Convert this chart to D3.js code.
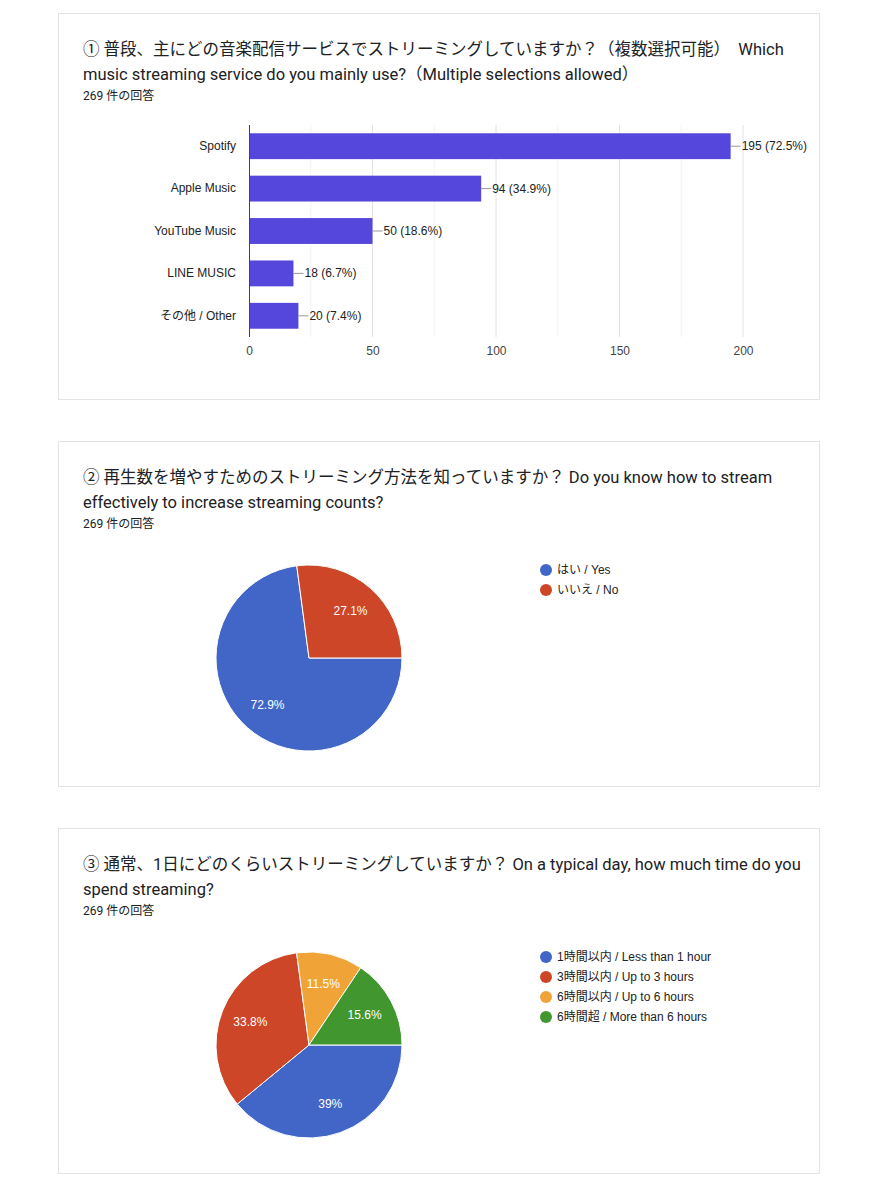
<!DOCTYPE html>
<html>
<head>
<meta charset="utf-8">
<script src="https://cdn.jsdelivr.net/npm/d3@7"></script>
<style>
  body { margin: 0; background: #fff; }
  text { font-family: "Liberation Sans", Arial, "Noto Sans CJK JP", sans-serif; }
  .title { font-family: Roboto, "Noto Sans CJK JP", sans-serif; font-size: 16.5px; fill: #202124; }
  .count { font-family: Roboto, "Noto Sans CJK JP", sans-serif; font-size: 12px; fill: #202124; }
</style>
</head>
<body>
<div id="chart"></div>
<script>
// values
const services = ["Spotify", "Apple Music", "YouTube Music", "LINE MUSIC", "その他 / Other"];
const serviceCounts = [195, 94, 50, 18, 20];
const servicePct = ["72.5%", "34.9%", "18.6%", "6.7%", "7.4%"];
const xTicks = [0, 50, 100, 150, 200];

const knowLabels = ["はい / Yes", "いいえ / No"];
const knowPct = [72.9, 27.1];

const timeLabels = ["1時間以内 / Less than 1 hour", "3時間以内 / Up to 3 hours", "6時間以内 / Up to 6 hours", "6時間超 / More than 6 hours"];
const timePct = [39, 33.8, 11.5, 15.6];

const pieColors = ["#4266c8", "#cd4628", "#f0a437", "#41962f"];

const titles = [
  ["① 普段、主にどの音楽配信サービスでストリーミングしていますか？（複数選択可能）　Which",
   "music streaming service do you mainly use?（Multiple selections allowed）"],
  ["② 再生数を増やすためのストリーミング方法を知っていますか？ Do you know how to stream",
   "effectively to increase streaming counts?"],
  ["③ 通常、1日にどのくらいストリーミングしていますか？ On a typical day, how much time do you",
   "spend streaming?"]
];
const responses = "269 件の回答";

let width = 878, height = 1200;

const svg = d3.select("#chart")
  .append("svg")
  .attr("width", width)
  .attr("height", height);

svg.append("rect").attr("width", width).attr("height", height).attr("fill", "#fff");

// cards
let cards = [{ y: 13, h: 386 }, { y: 441, h: 345 }, { y: 828, h: 345 }];

cards.forEach((c, i) => {
  svg.append("rect")
    .attr("x", 58.5).attr("y", c.y + 0.5)
    .attr("width", 761).attr("height", c.h)
    .attr("fill", "#fff")
    .attr("stroke", "#e3e3e3");

  titles[i].forEach((line, j) => {
    svg.append("text")
      .attr("class", "title")
      .attr("x", 83)
      .attr("y", c.y + 42 + j * 25)
      .text(line);
  });

  svg.append("text")
    .attr("class", "count")
    .attr("x", 83)
    .attr("y", c.y + 87)
    .text(responses);
});

// ---- bar chart ----
let x = d3.scaleLinear()
  .domain([0, 200])
  .range([249, 743]);

let y = d3.scaleBand()
  .domain(services)
  .range([125, 337])
  .paddingInner(0.39)
  .paddingOuter(0.195);

let bar = svg.append("g");

// grid lines every 25, lighter in between
bar.append("g")
  .selectAll("line")
  .data(d3.range(25, 201, 25))
  .join("line")
  .attr("x1", d => x(d)).attr("x2", d => x(d))
  .attr("y1", 125).attr("y2", 337)
  .attr("stroke", d => d % 50 === 0 ? "#e2e2e2" : "#f3f3f3");

bar.append("g")
  .attr("transform", "translate(0,337)")
  .call(d3.axisBottom(x).tickValues(xTicks).tickSize(0).tickPadding(9))
  .call(g => g.select(".domain").remove())
  .call(g => g.selectAll("text").attr("font-size", 12).attr("fill", "#444")
    .style("font-family", "'Liberation Sans', Arial, sans-serif"));

bar.append("g")
  .attr("transform", "translate(249,0)")
  .call(d3.axisLeft(y).tickSize(0).tickPadding(13))
  .call(g => g.select(".domain").remove())
  .call(g => g.selectAll("text").attr("font-size", 12).attr("fill", "#222")
    .style("font-family", "'Liberation Sans', Arial, 'Noto Sans CJK JP', sans-serif"));

bar.selectAll(".bar")
  .data(services)
  .join("rect")
  .attr("class", "bar")
  .attr("x", x(0))
  .attr("y", d => y(d))
  .attr("width", (d, i) => x(serviceCounts[i]) - x(0))
  .attr("height", y.bandwidth())
  .attr("fill", "#5647dc");

// leader line + value label
bar.selectAll(".lead")
  .data(services)
  .join("line")
  .attr("class", "lead")
  .attr("x1", (d, i) => x(serviceCounts[i]))
  .attr("x2", (d, i) => x(serviceCounts[i]) + 10)
  .attr("y1", d => y(d) + y.bandwidth() / 2)
  .attr("y2", d => y(d) + y.bandwidth() / 2)
  .attr("stroke", "#999");

bar.selectAll(".val")
  .data(services)
  .join("text")
  .attr("class", "val")
  .attr("x", (d, i) => x(serviceCounts[i]) + 11)
  .attr("y", d => y(d) + y.bandwidth() / 2)
  .attr("dominant-baseline", "central")
  .attr("font-size", 12)
  .attr("fill", "#222")
  .text((d, i) => `${serviceCounts[i]} (${servicePct[i]})`);

// y axis line
bar.append("line")
  .attr("x1", 249.5).attr("x2", 249.5)
  .attr("y1", 125).attr("y2", 337)
  .attr("stroke", "#444");

// ---- pies ----
function drawPie(cy, labels, values) {
  let r = 93, cx = 309;
  let g = svg.append("g").attr("transform", `translate(${cx},${cy})`);

  let pie = d3.pie()
    .sort(null)
    .startAngle(Math.PI / 2)
    .endAngle(Math.PI / 2 + 2 * Math.PI)
    .value(d => d);

  let arcs = pie(values);
  let arc = d3.arc().innerRadius(0).outerRadius(r);
  let labelArc = d3.arc().innerRadius(63).outerRadius(63);

  g.selectAll("path")
    .data(arcs)
    .join("path")
    .attr("d", arc)
    .attr("fill", (d, i) => pieColors[i])
    .attr("stroke", "#fff")
    .attr("stroke-width", 1);

  g.selectAll(".pl")
    .data(arcs)
    .join("text")
    .attr("class", "pl")
    .attr("transform", d => `translate(${labelArc.centroid(d)})`)
    .attr("text-anchor", "middle")
    .attr("dominant-baseline", "central")
    .attr("font-size", 12)
    .attr("fill", "#fff")
    .text(d => d.data + "%");

  let leg = svg.append("g");
  labels.forEach((l, i) => {
    let ly = cy - 88 + i * 20;
    leg.append("circle")
      .attr("cx", 546).attr("cy", ly).attr("r", 6)
      .attr("fill", pieColors[i]);
    leg.append("text")
      .attr("x", 557).attr("y", ly)
      .attr("dominant-baseline", "central")
      .attr("font-size", 12)
      .attr("fill", "#222")
      .text(l);
  });
}

drawPie(658, knowLabels, knowPct);
drawPie(1045, timeLabels, timePct);
</script>
</body>
</html>
